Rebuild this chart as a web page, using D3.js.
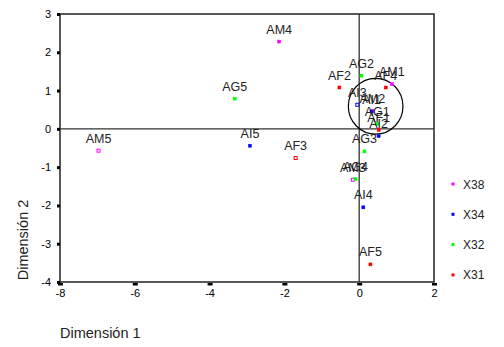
<!DOCTYPE html>
<html><head><meta charset="utf-8">
<script src="https://cdn.jsdelivr.net/npm/d3@7"></script>
<style>body{margin:0;background:#fff}svg{display:block;font-family:"Liberation Sans",Arial,sans-serif}</style>
</head><body><div id="c"></div>
<script>
const labels = ["AM4","AG5","AM5","AI5","AF3","AG2","AF2","AM1","AF4","AI3","AM2","AI1","AG1","AF1","AI2","AG3","AM3","AG4","AI4","AF5"];
const dim1 = [-2.14,-3.33,-6.97,-2.92,-1.70,0.06,-0.53,0.87,0.71,-0.05,0.35,0.33,0.48,0.52,0.52,0.14,-0.17,-0.10,0.11,0.30];
const dim2 = [2.28,0.79,-0.57,-0.44,-0.76,1.39,1.08,1.17,1.08,0.63,0.47,0.45,0.13,-0.03,-0.19,-0.59,-1.33,-1.31,-2.05,-3.54];
const groups = ["X38","X32","X38","X34","X31","X32","X31","X38","X31","X34","X38","X34","X32","X31","X34","X32","X38","X32","X34","X31"];
const legendGroups = ["X38","X34","X32","X31"];
const groupColors = ["#ff00ff","#0000ff","#00ff00","#ff0000"];
const xTicks = [-8,-6,-4,-2,0,2];
const yTicks = [3,2,1,0,-1,-2,-3,-4];
const circleCenter = [0.44,0.59], circleRadius = 0.73;
const hollow = new Set(["AM5","AF3","AI3","AM3"]);

const W=504,H=347;
const svg=d3.select("#c").append("svg").attr("width",W).attr("height",H);
const x=d3.scaleLinear().domain([-8,2]).range([60,434]);
const y=d3.scaleLinear().domain([-4,3]).range([282,14]);
const color=d3.scaleOrdinal().domain(legendGroups).range(groupColors);
const fmt=v=>String(v);

// frame
svg.append("rect").attr("x",x(-8)).attr("y",y(3)).attr("width",x(2)-x(-8)).attr("height",y(-4)-y(3))
  .attr("fill","none").attr("stroke","#222").attr("stroke-width",1.5);
// zero lines
svg.append("line").attr("x1",x(0)).attr("x2",x(0)).attr("y1",y(3)).attr("y2",y(-4)).attr("stroke","#333").attr("stroke-width",1.3);
svg.append("line").attr("x1",x(-8)).attr("x2",x(2)).attr("y1",y(0)).attr("y2",y(0)).attr("stroke","#333").attr("stroke-width",1.3);

// y axis
const ya=svg.append("g").attr("transform",`translate(${x(-8)},0)`).call(d3.axisLeft(y).tickValues(yTicks).tickFormat(fmt).tickSize(0).tickPadding(9));
ya.select(".domain").remove();
ya.selectAll("text").attr("font-size",11).attr("fill","#000").attr("font-family","Liberation Sans, Arial, sans-serif");
ya.selectAll(".tick").append("rect").attr("x",-3).attr("y",-1.5).attr("width",3).attr("height",3).attr("fill","#000");
// x axis
const xa=svg.append("g").attr("transform",`translate(0,${y(-4)})`).call(d3.axisBottom(x).tickValues(xTicks).tickFormat(fmt).tickSize(0).tickPadding(7));
xa.select(".domain").remove();
xa.selectAll("text").attr("font-size",11).attr("fill","#000").attr("font-family","Liberation Sans, Arial, sans-serif");
xa.selectAll(".tick").append("rect").attr("x",-2.5).attr("y",1).attr("width",5).attr("height",2.5).attr("fill","#000");

// circle
svg.append("ellipse").attr("cx",x(circleCenter[0])).attr("cy",y(circleCenter[1]))
  .attr("rx",x(circleRadius)-x(0)).attr("ry",y(0)-y(circleRadius))
  .attr("fill","none").attr("stroke","#000").attr("stroke-width",1.2);

const pts=labels.map((l,i)=>({l,x:dim1[i],y:dim2[i],g:groups[i]}));
svg.append("g").selectAll("rect").data(pts).join("rect")
  .attr("x",d=>x(d.x)-1.5).attr("y",d=>y(d.y)-1.5).attr("width",3).attr("height",3)
  .attr("fill",d=>hollow.has(d.l)?"#fff":color(d.g)).attr("stroke",d=>color(d.g)).attr("stroke-width",d=>hollow.has(d.l)?1:0.5);
svg.append("g").selectAll("text").data(pts).join("text")
  .attr("x",d=>x(d.x)).attr("y",d=>y(d.y)-8).attr("text-anchor","middle")
  .attr("font-size",12.5).attr("fill","#222").text(d=>d.l);

// legend
const lg=svg.append("g").selectAll("g").data(legendGroups).join("g")
  .attr("transform",(d,i)=>`translate(453,${184+i*30.3})`);
lg.append("rect").attr("x",-1.5).attr("y",-1.5).attr("width",3).attr("height",3).attr("fill",d=>color(d));
lg.append("text").attr("x",10).attr("y",4.5).attr("font-size",12).attr("fill","#222").text(d=>d);

// axis titles
svg.append("text").attr("x",60).attr("y",338).attr("font-size",14.5).attr("fill","#222").text("Dimensión 1");
svg.append("text").attr("transform","translate(28,240) rotate(-90)").attr("text-anchor","middle").attr("font-size",14.5).attr("fill","#222").text("Dimensión 2");
</script></body></html>
